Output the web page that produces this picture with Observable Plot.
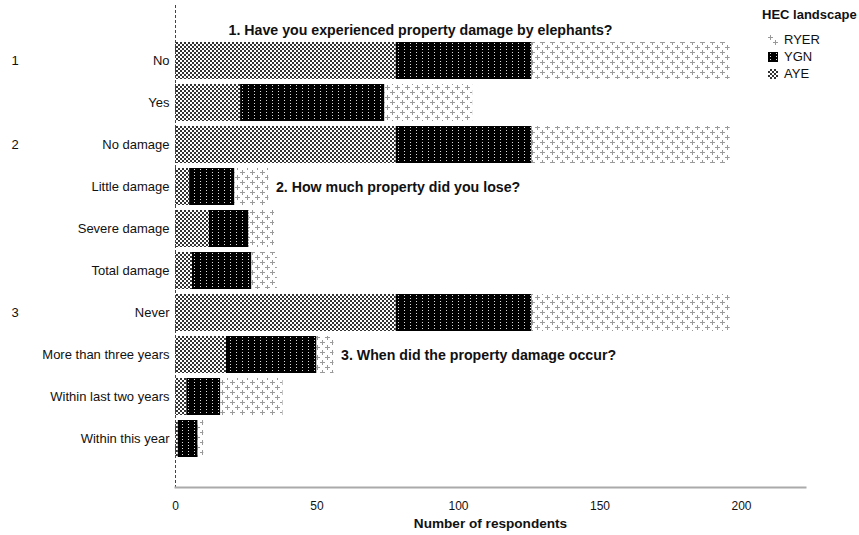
<!DOCTYPE html>
<html>
<head>
<meta charset="utf-8">
<script src="https://cdn.jsdelivr.net/npm/d3@7"></script>
<script src="https://cdn.jsdelivr.net/npm/@observablehq/plot@0.6"></script>
<style>
  html, body { margin: 0; padding: 0; background: #fff; }
  body { font-family: "Liberation Sans", Arial, sans-serif; }
  #wrap { position: relative; width: 859px; height: 535px; }
  #legend { position: absolute; left: 762px; top: 7px; font-size: 13px; color: #111; }
  #legend .hdr { font-weight: bold; margin-bottom: 7px; height: 17px; }
  #legend .item { display: flex; align-items: center; height: 17px; margin-left: 6px; }
  #legend .item svg { margin-right: 6px; }
</style>
</head>
<body>
<svg width="0" height="0" style="position:absolute">
  <defs>
    <pattern id="patAYE" width="4" height="4" patternUnits="userSpaceOnUse">
      <rect width="4" height="4" fill="#333"/>
      <rect x="0" y="0" width="2" height="2" fill="#fff"/>
      <rect x="2" y="2" width="2" height="2" fill="#fff"/>
    </pattern>
    <pattern id="patYGN" width="6" height="3" patternUnits="userSpaceOnUse">
      <rect width="6" height="3" fill="#000"/>
      <rect x="2" y="1" width="1" height="1" fill="#ddd"/>
    </pattern>
    <pattern id="patRYER" width="10" height="10" patternUnits="userSpaceOnUse">
      <rect width="10" height="10" fill="#fff"/>
      <rect x="2" y="0" width="1" height="5" fill="#999"/>
      <rect x="0" y="2" width="5" height="1" fill="#999"/>
      <rect x="7" y="5" width="1" height="5" fill="#999"/>
      <rect x="5" y="7" width="5" height="1" fill="#999"/>
    </pattern>
  </defs>
</svg>
<div id="wrap">
  <div id="chart"></div>
  <div id="legend"></div>
</div>
<script>
const categories = ["No", "Yes", "No damage", "Little damage", "Severe damage", "Total damage",
  "Never", "More than three years", "Within last two years", "Within this year"];
const series = ["AYE", "YGN", "RYER"];
const ayeValues  = [78, 23, 78, 5, 12, 6, 78, 18, 4, 1];
const ygnValues  = [48, 51, 48, 16, 14, 21, 48, 32, 12, 7];
const ryerValues = [70, 31, 70, 12, 9, 9, 70, 6, 22, 2];
const xTicks = [0, 50, 100, 150, 200];
const groupNumbers = ["1", "2", "3"];
const groupRows = ["No", "No damage", "Never"];
const questions = ["1. Have you experienced property damage by elephants?",
  "2. How much property did you lose?",
  "3. When did the property damage occur?"];
const questionRows = ["No", "Little damage", "More than three years"];
const legendTitle = "HEC landscape";
const legendOrder = ["RYER", "YGN", "AYE"];
const xLabel = "Number of respondents";

const patterns = {AYE: "url(#patAYE)", YGN: "url(#patYGN)", RYER: "url(#patRYER)"};
const valuesBySeries = {AYE: ayeValues, YGN: ygnValues, RYER: ryerValues};

const rows = [];
series.forEach(s => categories.forEach((c, i) => rows.push({category: c, series: s, value: valuesBySeries[s][i]})));
const totals = categories.map((c, i) => ({category: c, total: ayeValues[i] + ygnValues[i] + ryerValues[i]}));
const totalOf = c => totals.find(t => t.category === c).total;

const q1 = [{category: questionRows[0], text: questions[0]}];
const qRest = [1, 2].map(i => ({category: questionRows[i], text: questions[i], x: totalOf(questionRows[i])}));

const chart = Plot.plot({
  width: 859,
  height: 535,
  marginLeft: 175,
  marginRight: 54,
  marginTop: 5,
  marginBottom: 48,
  style: {fontFamily: "'Liberation Sans', Arial, sans-serif", fontSize: "13px", color: "#111", background: "#fff"},
  x: {domain: [0, 222.6]},
  y: {domain: categories, range: [35.6, 462.4], paddingInner: 0.13, paddingOuter: 0.065},
  color: {type: "identity"},
  marks: [
    Plot.barX(rows, Plot.stackX({
      y: "category", x: "value", z: "series",
      order: series,
      fill: d => patterns[d.series]
    })),
    Plot.ruleX([0], {stroke: "#444", strokeDasharray: "3,2", strokeWidth: 1}),
    Plot.frame({anchor: "bottom", stroke: "#aaa", strokeWidth: 2}),
    Plot.axisX({ticks: xTicks, tickSize: 0, tickPadding: 14, label: null, fontSize: 12}),
    Plot.axisY({tickSize: 0, tickPadding: 6, label: null, fontSize: 13}),
    Plot.text(groupRows.map((r, i) => ({category: r, text: groupNumbers[i]})), {
      y: "category", text: "text", frameAnchor: "left", dx: -164, textAnchor: "start", fontSize: 13
    }),
    Plot.text(q1, {y: "category", x: 0, text: "text", dx: 53, dy: -31, textAnchor: "start",
      fontWeight: "bold", fontSize: 14.2}),
    Plot.text(qRest, {y: "category", x: "x", text: "text", dx: 7, textAnchor: "start",
      fontWeight: "bold", fontSize: 14.2}),
    Plot.text([xLabel], {text: d => d, frameAnchor: "bottom", dy: 40, fontWeight: "bold", fontSize: 13.6})
  ]
});
document.getElementById("chart").appendChild(chart);

const legend = document.getElementById("legend");
const hdr = document.createElement("div");
hdr.className = "hdr";
hdr.textContent = legendTitle;
legend.appendChild(hdr);
legendOrder.forEach(s => {
  const item = document.createElement("div");
  item.className = "item";
  item.innerHTML = `<svg width="10" height="10"><rect width="10" height="10" fill="${patterns[s]}"/></svg><span>${s}</span>`;
  legend.appendChild(item);
});
</script>
</body>
</html>
